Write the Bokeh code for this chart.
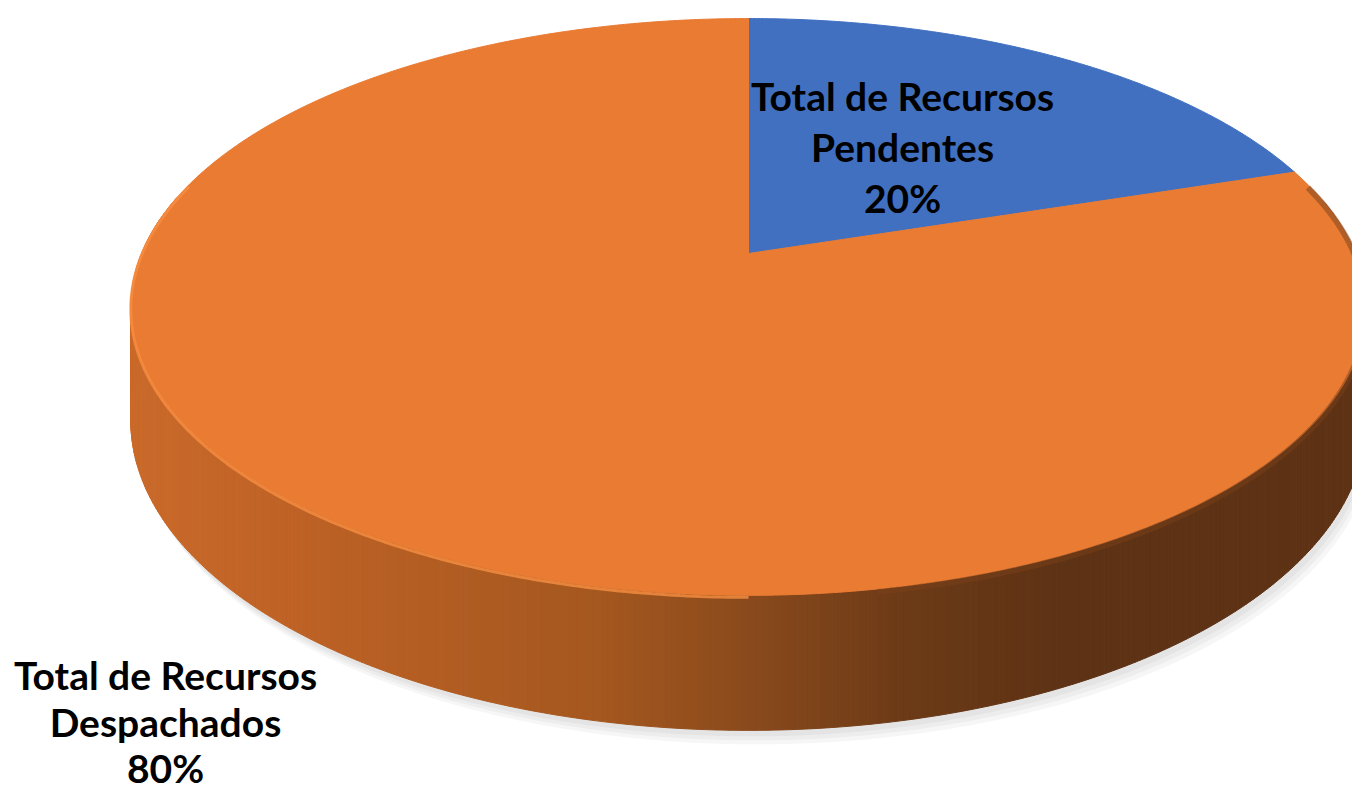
import numpy as np
from bokeh.plotting import figure
from bokeh.models import Range1d
from bokeh.core.properties import value
from bokeh.embed import file_html
from bokeh.resources import INLINE

# ---- data ----
categories = ["Total de Recursos Pendentes", "Total de Recursos Despachados"]
label_lines = [["Total de Recursos", "Pendentes"], ["Total de Recursos", "Despachados"]]
values = [20, 80]
colors = ["#4170C1", "#E97B33"]

W, Hh = 1352, 795
p = figure(width=W, height=Hh, x_range=Range1d(0, W), y_range=Range1d(Hh, 0),
           output_backend="svg", toolbar_location=None, min_border=0)
p.axis.visible = False
p.grid.visible = False
p.outline_line_color = None
p.background_fill_color = "white"
p.border_fill_color = "white"

# ---- perspective pie geometry ----
cx, cy = 748.0, 253.0
A, B, k, depth = 607.0, 278.5, 0.1853, 110.0


def top_pt(phi):
    u = np.sin(phi)
    v = -np.cos(phi)
    s = 1.0 - k * v
    return cx + A * u / s, cy + B * v / s, depth / s


phis = np.linspace(0, 2 * np.pi, 721)
tx, ty, dz = top_pt(phis)
bx, by = tx, ty + dz

# soft shadow
for i, off in enumerate([14, 10, 6]):
    p.patch(list(bx + off * 0.6), list(by + off), fill_color="#000000",
            fill_alpha=0.035, line_color=None)

# side gradient
stops_x = [120, 300, 600, 750, 900, 1050, 1360]
stops_c = [(203, 107, 43), (190, 98, 38), (165, 88, 31), (138, 74, 29),
           (109, 59, 23), (95, 51, 21), (94, 50, 21)]


def side_color(x):
    r = np.interp(x, stops_x, [c[0] for c in stops_c])
    g = np.interp(x, stops_x, [c[1] for c in stops_c])
    b = np.interp(x, stops_x, [c[2] for c in stops_c])
    return "#%02x%02x%02x" % (int(r), int(g), int(b))


xs, ys, cs = [], [], []
for i in range(len(phis) - 1):
    v = -np.cos(phis[i])
    if v < -0.2:
        continue
    x1, y1, x2, y2 = tx[i], ty[i], tx[i + 1], ty[i + 1]
    xs.append([x1, x2, bx[i + 1], bx[i]])
    ys.append([y1, y2, by[i + 1], by[i]])
    cs.append(side_color((x1 + x2) / 2))
p.patches(xs, ys, fill_color=cs, line_color=cs, line_width=1)

# top face slices
total = float(sum(values))
start = 0.0
for val, col in zip(values, colors):
    end = start + 2 * np.pi * val / total
    ph = np.linspace(start, end, max(int(val * 8), 10))
    px, py, _ = top_pt(ph)
    p.patch([cx] + list(px) + [cx], [cy] + list(py) + [cy],
            fill_color=col, line_color=col, line_width=1)
    start = end

# rim highlight on front-left edge
hp = np.linspace(np.radians(180), np.radians(285), 200)
hx, hy, _ = top_pt(hp)
p.line(hx, hy + 2, line_color="#F88E42", line_width=3, line_alpha=0.8)
# dark rim on right side
rp = np.linspace(np.radians(75), np.radians(170), 200)
rx, ry, _ = top_pt(rp)
p.line(rx, ry + 3, line_color="#7A4019", line_width=6, line_alpha=0.5)

# labels
font = value("Lato")
pct = [f"{round(v / total * 100)}%" for v in values]
lab_pos = [(902, [95, 146, 197]), (165, [674, 721, 767])]
for (lx, lys), lines, pc in zip(lab_pos, label_lines, pct):
    texts = lines + [pc]
    p.text(x=[lx] * 3, y=lys, text=texts, text_font=font, text_font_style="bold",
           text_font_size="39px", text_color="black", text_align="center",
           text_baseline="middle")

open("out.html", "w").write(file_html(p, INLINE))
